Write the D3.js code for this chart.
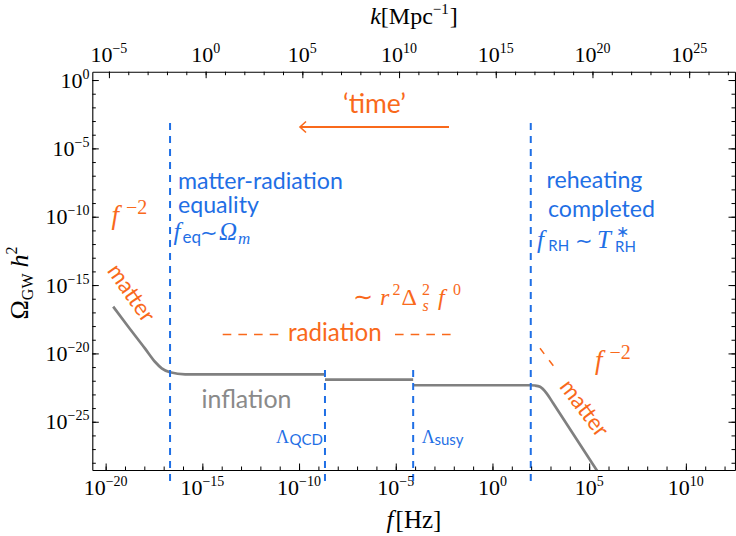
<!DOCTYPE html>
<html><head><meta charset="utf-8">
<script src="https://cdn.jsdelivr.net/npm/d3@7"></script>
<style>body{margin:0;background:#fff}svg{display:block}</style>
</head><body>
<svg id="c" width="736" height="536"></svg>
<script>
// ---------------- data (exponents of 10) ----------------
// curve segments: log10 f [Hz], log10 Omega_GW h^2
const seg1LogF  = [-19.61, -18.83, -17.97, -17.45, -17.10, -16.67, -15.89, -8.66];
const seg1LogOm = [-16.58, -18.05, -19.63, -20.61, -21.09, -21.38, -21.53, -21.53];
const seg2LogF  = [-8.66, -4.10];
const seg2LogOm = [-21.92, -21.92];
const seg3LogF  = [-4.10, 1.98, 2.20, 2.46, 2.80, 3.14, 5.60];
const seg3LogOm = [-22.33, -22.33, -22.35, -22.44, -22.92, -23.65, -29.00];

// vertical markers
const markerNames   = ["eq", "QCD", "susy", "RH"];
const markerLogF    = [-16.67, -8.66, -4.10, 1.98];
const markerTopLogOm= [-3.15, -21.21, -21.21, -3.15];

// axes
const fDomainExp = [-20.69, 12.54];
const omDomainExp = [0.61, -28.53];
const kOffsetExp = 14.83;            // log10 k[Mpc^-1] = log10 f[Hz] + 14.83
const bottomMajorExp = [-20, -15, -10, -5, 0, 5, 10];
const bottomMinorExp = d3.range(-20, 13);
const topMajorExp = [-5, 0, 5, 10, 15, 20, 25];
const topMinorExp = d3.range(-5, 28);
const leftMajorExp = [0, -5, -10, -15, -20, -25];
const leftMinorExp = d3.range(0, -29, -1);

// ---------------- layout ----------------
const L = 92.3, R = 735, T = 71.7, B = 470;
const ORANGE = "#f9691b", BLUE = "#1f6fe5", GRAY = "#808080";
const SERIF = "'Liberation Serif', 'Times New Roman', serif";
const SANS = "Lato, 'Open Sans', sans-serif";

const svg = d3.select("#c");
const x = d3.scaleLog().domain(fDomainExp.map(e => 10 ** e)).range([L, R]);
const xk = d3.scaleLog().domain(fDomainExp.map(e => 10 ** (e + kOffsetExp))).range([L, R]);
const y = d3.scaleLog().domain(omDomainExp.map(e => 10 ** e)).range([T, B]);

const neg = e => (e < 0 ? "\u2212" + (-e) : "" + e);

// rich text helper
function rich(parent, px, py, parts, anchor) {
  const t = parent.append("text").attr("x", px).attr("y", py);
  if (anchor) t.attr("text-anchor", anchor);
  let cur = 0;
  parts.forEach(p => {
    const sh = p.shift || 0;
    const ts = t.append("tspan").text(p.t)
      .attr("dy", sh - cur)
      .attr("font-size", p.size)
      .attr("font-family", p.font || SERIF)
      .attr("font-style", p.italic ? "italic" : "normal");
    if (p.x !== undefined) ts.attr("x", p.x);
    if (p.dx !== undefined) ts.attr("dx", p.dx);
    cur = sh;
  });
  return t;
}
function fit(sel, w) {
  const cur = parseFloat(sel.attr("font-size"));
  const m = sel.node().getComputedTextLength();
  const s = cur * w / m;
  sel.attr("font-size", s);
  return s;
}

// ---------------- clip ----------------
svg.append("defs").append("clipPath").attr("id", "plot")
  .append("rect").attr("x", L).attr("y", T).attr("width", R - L).attr("height", B - T);

// ---------------- curve ----------------
const line = d3.line().x(d => x(10 ** d[0])).y(d => y(10 ** d[1])).curve(d3.curveMonotoneX);
const curveG = svg.append("g").attr("clip-path", "url(#plot)");
[[seg1LogF, seg1LogOm], [seg2LogF, seg2LogOm], [seg3LogF, seg3LogOm]].forEach(([fs, os]) => {
  curveG.append("path").datum(fs.map((f, i) => [f, os[i]]))
    .attr("d", line).attr("fill", "none").attr("stroke", GRAY)
    .attr("stroke-width", 2.7).attr("stroke-linejoin", "round");
});

// ---------------- vertical dashed markers ----------------
markerLogF.forEach((f, i) => {
  svg.append("line")
    .attr("x1", x(10 ** f)).attr("x2", x(10 ** f))
    .attr("y1", y(10 ** markerTopLogOm[i])).attr("y2", B + 17)
    .attr("stroke", BLUE).attr("stroke-width", 2)
    .attr("stroke-dasharray", "7,6");
});

// ---------------- axes ----------------
function axisPair(gen, scale, tr, minors, majors) {
  const g1 = svg.append("g").attr("transform", tr)
    .call(gen(scale).tickValues(minors).tickSize(-3.5).tickSizeOuter(0).tickFormat(""));
  const g2 = svg.append("g").attr("transform", tr)
    .call(gen(scale).tickValues(majors).tickSize(-6.5).tickSizeOuter(0).tickFormat(""));
  g2.select(".domain").remove();
  [g1, g2].forEach(g => {
    g.selectAll("line").attr("stroke", "#000").attr("stroke-width", 1);
    g.select(".domain").attr("stroke", "#000").attr("stroke-width", 1.1);
  });
}
axisPair(d3.axisBottom, x, `translate(0,${B})`, bottomMinorExp.map(e => 10 ** e), bottomMajorExp.map(e => 10 ** e));
axisPair(d3.axisTop, xk, `translate(0,${T})`, topMinorExp.map(e => 10 ** e), topMajorExp.map(e => 10 ** e));
axisPair(d3.axisLeft, y, `translate(${L},0)`, leftMinorExp.map(e => 10 ** e), leftMajorExp.map(e => 10 ** e));
axisPair(d3.axisRight, y, `translate(${R},0)`, leftMinorExp.map(e => 10 ** e), leftMajorExp.map(e => 10 ** e));

// tick labels
const tl = svg.append("g").attr("fill", "#000");
bottomMajorExp.forEach(e => rich(tl, x(10 ** e), 495, [
  { t: "10", size: 22 }, { t: neg(e), size: 14, shift: -9 }], "middle"));
topMajorExp.forEach(e => rich(tl, xk(10 ** e), 61.7, [
  { t: "10", size: 22 }, { t: neg(e), size: 14, shift: -9 }], "middle"));
leftMajorExp.forEach(e => rich(tl, 89.5, y(10 ** e) + 7.5, [
  { t: "10", size: 22 }, { t: neg(e), size: 14, shift: -9 }], "end"));

// axis titles
rich(svg, 414, 528, [{ t: "f", size: 25, italic: true }, { t: "[Hz]", size: 25, dx: 2 }], "middle");
rich(svg, 414, 24, [{ t: "k", size: 24, italic: true }, { t: "[Mpc", size: 24 },
  { t: "\u22121", size: 15, shift: -10 }, { t: "]", size: 24, shift: 0, dx: 1 }], "middle");
const yl = svg.append("g").attr("transform", "translate(28,283) rotate(-90)");
rich(yl, 0, 0, [{ t: "\u03A9", size: 26 }, { t: "GW", size: 16, shift: 5 },
  { t: "h", size: 26, italic: true, shift: 0, dx: 6 }, { t: "2", size: 16, shift: -11 }], "middle");

// ---------------- annotations ----------------
const ann = svg.append("g");
// time arrow
const tt = ann.append("text").attr("x", 343).attr("y", 113).attr("font-family", SANS)
  .attr("font-size", 22).attr("fill", ORANGE).text("\u2018time\u2019");
fit(tt, 63);
ann.append("line").attr("x1", 449).attr("x2", 300).attr("y1", 127).attr("y2", 127)
  .attr("stroke", ORANGE).attr("stroke-width", 2);
ann.append("path").attr("d", "M306,121.5 L300,127 L306,132.5").attr("fill", "none")
  .attr("stroke", ORANGE).attr("stroke-width", 1.6);

// blue labels
const mr = ann.append("text").attr("x", 178).attr("y", 188.5).attr("font-family", SANS)
  .attr("font-size", 24).attr("fill", BLUE).text("matter-radiation");
const bs = fit(mr, 165);
ann.append("text").attr("x", 178).attr("y", 213).attr("font-family", SANS)
  .attr("font-size", bs).attr("fill", BLUE).text("equality");
ann.append("text").attr("x", 546.5).attr("y", 187.5).attr("font-family", SANS)
  .attr("font-size", bs).attr("fill", BLUE).text("reheating");
ann.append("text").attr("x", 548).attr("y", 216.5).attr("font-family", SANS)
  .attr("font-size", bs).attr("fill", BLUE).text("completed");

rich(ann, 173.5, 240, [
  { t: "f", size: 25, italic: true },
  { t: "eq", size: 17, font: SANS, x: 182.5, shift: 3 },
  { t: "\u223C", size: 21, x: 200, shift: 0 },
  { t: "\u03A9", size: 25, italic: true, x: 219 },
  { t: "m", size: 17, italic: true, x: 238, shift: 4 }]).attr("fill", BLUE);

rich(ann, 537, 247.5, [
  { t: "f", size: 25, italic: true },
  { t: "RH", size: 15, font: SANS, x: 548.3, shift: 3 },
  { t: "\u223C", size: 21, x: 575, shift: 0 },
  { t: "T", size: 25, italic: true, x: 597 },
  { t: "\u2217", size: 16, x: 616, shift: -11 },
  { t: "RH", size: 15, font: SANS, x: 615, shift: 4 }]).attr("fill", BLUE);

rich(ann, 276, 443.3, [{ t: "\u039B", size: 18 },
  { t: "QCD", size: 15, font: SANS, x: 289.5, shift: 2 }]).attr("fill", BLUE);
rich(ann, 421.7, 443.3, [{ t: "\u039B", size: 18 },
  { t: "susy", size: 15, font: SANS, x: 434.5, shift: 2 }]).attr("fill", BLUE);

// orange labels
rich(ann, 111.5, 224, [{ t: "f", size: 27, italic: true },
  { t: "\u22122", size: 20, x: 126, shift: -10 }]).attr("fill", ORANGE);
rich(ann, 595, 369, [{ t: "f", size: 27, italic: true },
  { t: "\u22122", size: 20, x: 609.5, shift: -10 }]).attr("fill", ORANGE);

rich(ann, 353, 305, [
  { t: "\u223C", size: 24 },
  { t: "r", size: 24, italic: true, x: 380 },
  { t: "2", size: 16, x: 392.5, shift: -10 },
  { t: "\u0394", size: 24, x: 401.5, shift: 0 },
  { t: "2", size: 16, x: 422, shift: -10 },
  { t: "s", size: 16, italic: true, x: 422.5, shift: 6 },
  { t: "f", size: 24, italic: true, x: 438, shift: 0 },
  { t: "0", size: 16, x: 453, shift: -10 }]).attr("fill", ORANGE);

const rad = ann.append("text").attr("x", 288).attr("y", 340.7).attr("font-family", SANS)
  .attr("font-size", 24).attr("fill", ORANGE).text("radiation");
fit(rad, 93.7);
[[222.7, 278.3], [395, 450.6]].forEach(([a, b]) => {
  ann.append("line").attr("x1", a).attr("x2", b).attr("y1", 334.5).attr("y2", 334.5)
    .attr("stroke", ORANGE).attr("stroke-width", 1.5).attr("stroke-dasharray", "8.6,7.07");
});

const infl = ann.append("text").attr("x", 201.5).attr("y", 408.3).attr("font-family", SANS)
  .attr("font-size", 24).attr("fill", "#8a8a8a").text("inflation");
fit(infl, 90);

const m1 = ann.append("text").attr("transform", "translate(132,292.5) rotate(55)")
  .attr("text-anchor", "middle").attr("dominant-baseline", "central")
  .attr("font-family", SANS).attr("font-size", 24).attr("fill", ORANGE).text("matter");
const ms = fit(m1, 65);
ann.append("text").attr("transform", "translate(585,407.5) rotate(53)")
  .attr("text-anchor", "middle").attr("dominant-baseline", "central")
  .attr("font-family", SANS).attr("font-size", ms).attr("fill", ORANGE).text("matter");
ann.append("line").attr("x1", 540).attr("y1", 348.3).attr("x2", 554).attr("y2", 366.7)
  .attr("stroke", ORANGE).attr("stroke-width", 1.5).attr("stroke-dasharray", "7,8");
</script>
</body></html>
